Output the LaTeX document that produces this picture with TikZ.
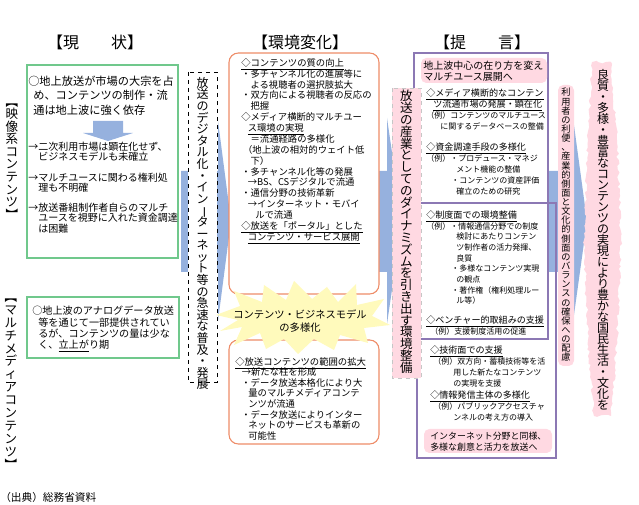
\documentclass[tikz,border=0pt]{standalone}
\usepackage{fontspec}
\setmainfont{Noto Sans CJK JP}
\usepackage{graphicx}
\usetikzlibrary{decorations.pathmorphing}

\definecolor{arrowblue}{RGB}{150,177,222}
\definecolor{softpink}{RGB}{255,217,226}
\definecolor{greenline}{RGB}{112,200,140}
\definecolor{orangeline}{RGB}{238,140,104}
\definecolor{purpleline}{RGB}{140,120,180}
\definecolor{burstyellow}{RGB}{255,250,188}

\newlength{\px}
\setlength{\px}{0.75pt}
\lineskiplimit=-20pt

\newcommand{\vbar}{\rotatebox[origin=c]{-90}{ー}}
\newcommand{\vlb}{\rotatebox[origin=c]{-90}{【}}
\newcommand{\vrb}{\rotatebox[origin=c]{-90}{】}}
\newcommand{\exfont}{\fontsize{6}{8}\selectfont}

% stack the characters of a string one below the other
\ExplSyntaxOn
\NewDocumentCommand \vtext { m }
  {
    \vbox:n
      {
        \tl_map_inline:nn {#1}
          { \hbox_to_wd:nn { 1.2em } { \hss ##1 \hss } }
      }
  }
\ExplSyntaxOff

\tikzset{
    heading/.style={inner sep=0pt, font=\fontsize{12}{14}\selectfont},
    txt/.style={anchor=north west, inner sep=0pt, align=left},
    leadtxt/.style={txt, font=\fontsize{8.4}{10.6}\selectfont},
    lefttxt/.style={txt, font=\fontsize{7.5}{7.7}\selectfont},
    multitxt/.style={txt, font=\fontsize{7.6}{8.5}\selectfont},
    ctrtxt/.style={txt, font=\fontsize{7}{8.15}\selectfont},
    proptxt/.style={txt, font=\fontsize{6.8}{8.25}\selectfont},
    pinktxt/.style={txt, font=\fontsize{7.5}{8.25}\selectfont},
    burstlabel/.style={inner sep=0pt, align=center, font=\fontsize{7.7}{9.75}\selectfont},
    vlabel/.style={inner sep=0pt, font=\fontsize{9.4}{9.4}\selectfont},
    greenbox/.style={draw=greenline, line width=0.8pt},
    ctrbox/.style={draw=orangeline, line width=0.8pt, fill=white, rounded corners=7pt},
    dashbox/.style={draw=black, dashed, line width=0.6pt, fill=white},
    pinkvbox/.style={fill=softpink, draw=gray!45, dashed, line width=0.5pt},
    pinkbox/.style={fill=softpink, rounded corners=4pt},
    frame/.style={draw=purpleline, line width=0.8pt},
    bigarrow/.style={fill=arrowblue}
}

\begin{document}
\begin{tikzpicture}[x=0.75pt, y=-0.75pt]
    \useasboundingbox (0,0) rectangle (639,505);

    % wide blue arrows in the background
    \fill[bigarrow] (181,171) -- (218,171) -- (218,121) -- (231,221) -- (218,321) -- (218,272) -- (181,272) -- cycle;
    \fill[bigarrow] (375,171) -- (387,171) -- (387,118) -- (402,221) -- (387,324) -- (387,272) -- (375,272) -- cycle;
    \fill[bigarrow] (549,171) -- (573,171) -- (573,118) -- (587,221) -- (573,322) -- (573,272) -- (549,272) -- cycle;

    % headings
    \node[heading] (nowhead) at (95,42) {【現　　状】};
    \node[heading] (envhead) at (300,42) {【環境変化】};
    \node[heading] (prophead) at (482,42) {【提　　言】};

    % present state
    \node[vlabel, anchor=north] (eizo) at (12,95) {\vtext{\vlb 映像系コンテンツ\vrb}};
    \node[vlabel, anchor=north, font=\fontsize{9.4}{9.7}\selectfont] (multi) at (11,290) {\vtext{\vlb マルチメディアコンテンツ\vrb}};
    \draw[greenbox] (27,65) rectangle (178,258);
    \draw[greenbox] (27,297) rectangle (179,358);
    \node[leadtxt] (eizomain) at (28,76) {○地上放送が市場の大宗を占\\
        \hspace*{0.45em}め、コンテンツの制作・流\\
        \hspace*{0.45em}通は地上波に強く依存};
    \fill[bigarrow] (93,121) -- (123,121) -- (123,133) -- (133,133) -- (108,141) -- (83,133) -- (93,133) -- cycle;
    \node[lefttxt] (eizoa) at (28,142) {→二次利用市場は顕在化せず、\\
        \hspace*{1em}ビジネスモデルも未確立};
    \node[lefttxt] (eizob) at (28,173) {→マルチユースに関わる権利処\\
        \hspace*{1em}理も不明確};
    \node[lefttxt] (eizoc) at (28,203) {→放送番組制作者自らのマルチ\\
        \hspace*{1em}ユースを視野に入れた資金調達\\
        \hspace*{1em}は困難};
    \node[multitxt] (multimain) at (32,306) {○地上波のアナログデータ放送\\
        \hspace*{0.6em}等を通じて一部提供されてい\\
        \hspace*{0.6em}るが、コンテンツの量は少な\\
        \hspace*{0.6em}く、\underline{立上が}り期};

    % digitalisation column
    \draw[dashbox] (188,72) rectangle (217,382);
    \node[vlabel, anchor=north, font=\fontsize{9}{8.7}\selectfont] (trend) at (202.5,77) {\vtext{放送のデジタル化・イン\vbar ターネット等の急速な普及・発展}};

    % environment change
    \draw[ctrbox] (229,53) rectangle (379,294);
    \draw[ctrbox] (229,340) rectangle (379,444);
    \node[ctrtxt] (quality) at (241,58) {\underline{◇コンテンツの質の向上}\\
        ・多チャンネル化の進展等に\\
        \hspace*{1em}よる視聴者の選択肢拡大\\
        ・双方向による視聴者の反応の\\
        \hspace*{1em}把握\\
        ◇メディア横断的マルチユー\\
        \hspace*{0.7em}\underline{ス環境の実現}\\
        \hspace*{1em}＝流通経路の多様化\\
        \hspace*{0.2em}（地上波の相対的ウェイト低\\
        \hspace*{1em}下）\\
        ・多チャンネル化等の発展\\
        \hspace*{0.7em}→BS、CSデジタルで流通\\
        ・通信分野の技術革新\\
        \hspace*{0.7em}→インターネット・モバイ\\
        \hspace*{1.5em}ルで流通\\
        \underline{◇放送を「ポータル」とした}\\
        \hspace*{0.7em}\underline{コンテンツ・サービス展開}};
    \node[ctrtxt, font=\fontsize{7}{7.9}\selectfont] (range) at (235,357) {\underline{◇放送コンテンツの範囲の拡大}\\
        \hspace*{0.7em}→新たな柱を形成\\
        \hspace*{0.65em}・データ放送本格化により大\\
        \hspace*{1.4em}量のマルチメディアコンテ\\
        \hspace*{1.4em}ンツが流通\\
        \hspace*{0.65em}・データ放送によりインター\\
        \hspace*{1.4em}ネットのサービスも革新の\\
        \hspace*{1.4em}可能性};
    \fill[burstyellow] (216,315) -- (240,306) -- (234,291) -- (262,302) -- (264,285) -- (286,300)
        -- (294,281) -- (312,299) -- (327,287) -- (338,302) -- (356,284) -- (357,305)
        -- (384,299) -- (372,316) -- (390,325) -- (364,328) -- (368,343) -- (340,335)
        -- (334,350) -- (314,339) -- (298,354) -- (284,339) -- (266,349) -- (260,333)
        -- (234,345) -- (242,327) -- (220,331) -- (238,320) -- cycle;
    \node[burstlabel] (burst) at (300,321) {コンテンツ・ビジネスモデル\\の多様化};

    % proposals
    \draw[frame] (414,53) rectangle (548,339);
    \draw[frame] (417,203) rectangle (556,458);
    \draw[pinkvbox] (392,88) rectangle (421,378);
    \node[vlabel, anchor=north, font=\fontsize{9.4}{8.85}\selectfont] (dynamism) at (406.5,90) {\vtext{放送の産業としてのダイナミズムを引き出す環境整備}};
    \fill[pinkbox] (421,58) rectangle (547,83);
    \node[pinktxt] (multiuse) at (423,61) {地上波中心の在り方を変え\\マルチユース展開へ};
    \node[proptxt] (market) at (426,88.5) {\underline{◇メディア横断的なコンテン}\\
        \hspace*{7\px}\underline{ツ流通市場の発展・顕在化}\\
        {\exfont （例）コンテンツのマルチユース}\\
        \hspace*{14\px}{\exfont に関するデータベースの整備}};
    \node[proptxt] (funding) at (426,142.5) {\underline{◇資金調達手段の多様化}\\
        {\exfont （例）・プロデュース・マネジ}\\
        \hspace*{30\px}{\exfont メント機能の整備}\\
        \hspace*{25\px}{\exfont ・コンテンツの資産評価}\\
        \hspace*{30\px}{\exfont 確立のための研究}};
    \node[proptxt, font=\fontsize{6.8}{8}\selectfont] (system) at (426,210.5) {\underline{◇制度面での環境整備}\\
        {\exfont （例）・情報通信分野での制度}\\
        \hspace*{30\px}{\exfont 検討にあたりコンテン}\\
        \hspace*{30\px}{\exfont ツ制作者の活力発揮、}\\
        \hspace*{30\px}{\exfont 良質}\\
        \hspace*{25\px}{\exfont ・多様なコンテンツ実現}\\
        \hspace*{30\px}{\exfont の観点}\\
        \hspace*{25\px}{\exfont ・著作権（権利処理ルー}\\
        \hspace*{30\px}{\exfont ル等）}};
    \node[proptxt] (venture) at (426,315.5) {\underline{◇ベンチャー的取組みの支援}\\
        \hspace*{4\px}{\exfont （例）支援制度活用の促進}};
    \node[proptxt] (tech) at (430,345.5) {\underline{◇技術面での支援}\\
        \hspace*{3\px}{\exfont （例）双方向・蓄積技術等を活}\\
        \hspace*{23\px}{\exfont 用した新たなコンテンツ}\\
        \hspace*{23\px}{\exfont の実現を支援}};
    \node[proptxt] (senders) at (430,390.5) {\underline{◇情報発信主体の多様化}\\
        \hspace*{3\px}{\exfont （例）パブリックアクセスチャ}\\
        \hspace*{23\px}{\exfont ンネルの考え方の導入}};
    \fill[pinkbox] (424,429) rectangle (552,453);
    \node[pinktxt, font=\fontsize{6.7}{8.25}\selectfont] (vitality) at (430,431.5) {インターネット分野と同様、\\多様な創意と活力を放送へ};

    % goals on the right
    \fill[pinkbox] (558,85) rectangle (574,366);
    \node[vlabel, anchor=north, font=\fontsize{6.9}{6.85}\selectfont] (balance) at (566,88) {\vtext{利用者の利便、産業的側面と文化的側面のバランスの確保への配慮}};
    \fill[softpink, decorate, decoration={random steps, segment length=2.5pt, amplitude=1.1pt}]
        (592,62) -- (611,62) -- (617,140) -- (621,240) -- (617,340) -- (611,416)
        -- (594,416) -- (588,340) -- (584,240) -- (588,140) -- cycle;
    \node[vlabel, anchor=north, font=\fontsize{9}{8.25}\selectfont] (goal) at (603,69) {\vtext{良質・多様・豊富なコンテンツの実現により豊かな国民生活・文化を}};

    % source
    \node[txt, font=\fontsize{8}{9}\selectfont] (source) at (0,492) {（出典）総務省資料};
\end{tikzpicture}
\end{document}
